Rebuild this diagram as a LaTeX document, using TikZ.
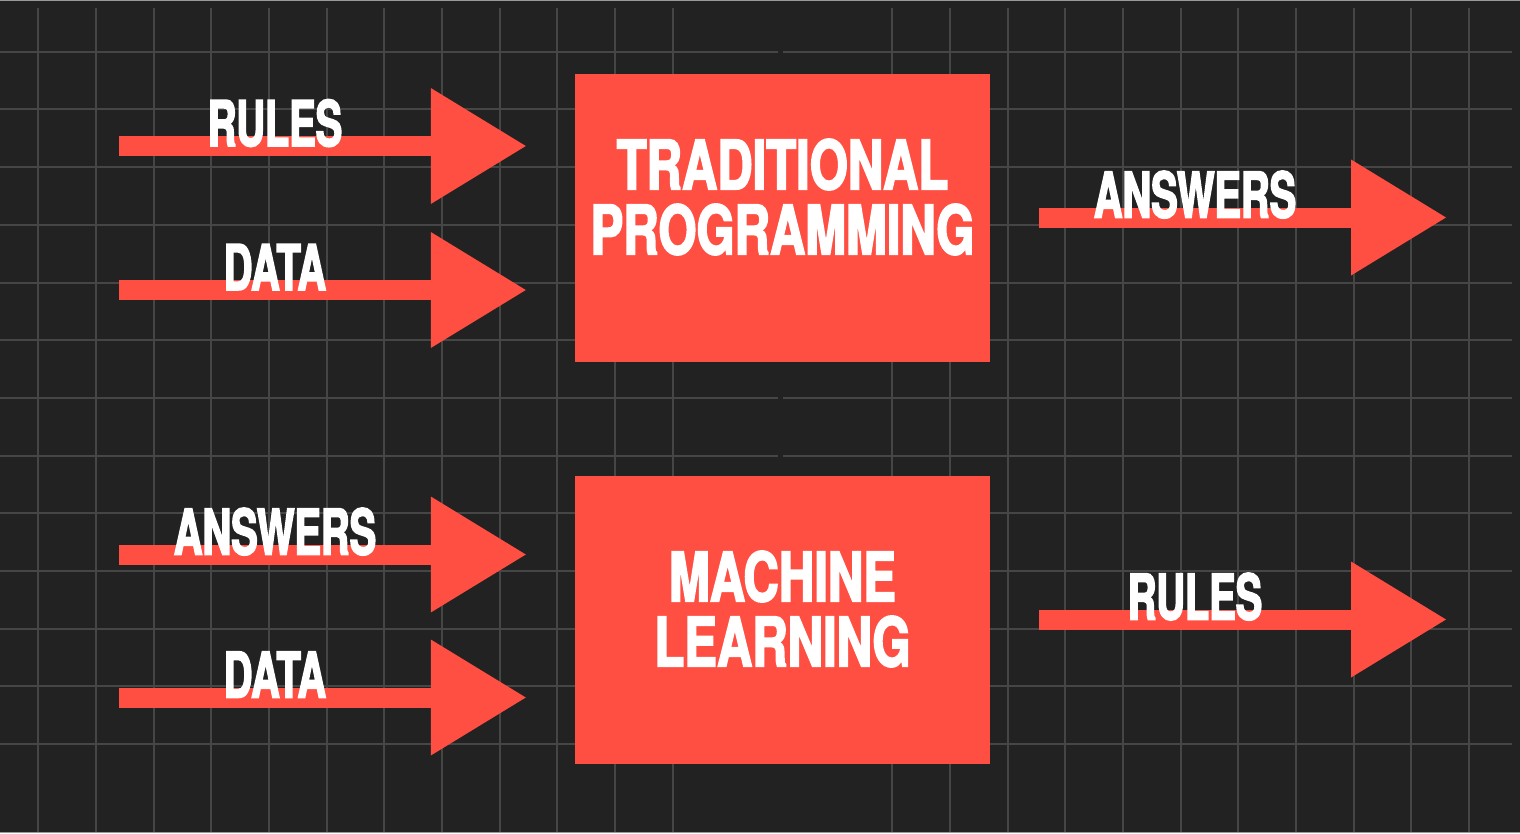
\documentclass[tikz,border=0pt]{standalone}
\usepackage{fontspec}
\usetikzlibrary{arrows.meta}
\newfontfamily\labelfont{TeX Gyre Heros}[FakeStretch=0.63,FakeBold=2.5]
\newfontfamily\blockfont{TeX Gyre Heros}[FakeStretch=0.72,FakeBold=2.5]
\definecolor{bgdark}{HTML}{222222}
\definecolor{gridgray}{HTML}{464646}
\definecolor{tomato}{HTML}{FF4F42}

\begin{document}
\begin{tikzpicture}[x=1pt,y=-1pt,
        bigarrow/.style={line width=20pt,tomato,-{Triangle[length=95pt,width=116pt,line width=0pt]}},
        gridline/.style={line width=2pt,gridgray},
        block/.style={fill=tomato,minimum width=415pt,minimum height=288pt,inner sep=0pt},
        blocktext/.style={text=white,align=center,inner sep=0pt,font={\blockfont\bfseries\fontsize{68}{65}\selectfont}},
        arrowlabel/.style={text=white,inner sep=0pt,anchor=base,font={\labelfont\bfseries\fontsize{63}{63}\selectfont}}]
        \useasboundingbox (0,0) rectangle (1520,833);
        \fill[bgdark] (0,0) rectangle (1520,833);

        % grid
        \foreach \k in {0,...,12}
            \draw[gridline] (0,{51.7+57.7*\k}) -- (1512,{51.7+57.7*\k});
        \foreach \k in {0,...,11}
            \draw[gridline] ({38.3+57.67*\k},8) -- ({38.3+57.67*\k},833);
        \foreach \k in {0,...,10}
            \draw[gridline] ({892.3+57.67*\k},8) -- ({892.3+57.67*\k},833);
        \draw[bgdark,line width=5pt] (780.5,45) -- (780.5,833);
        \draw[line width=1pt,gray!80] (0,0.5) -- (1520,0.5);
        \draw[line width=1pt,gray!80] (0,832.5) -- (1520,832.5);

        \node[block] (trad) at (782.5,218) {};
        \node[block] (ml) at (782.5,619.5) {};
        \node[blocktext] (tradtext) at ([yshift=21pt]trad.center) {TRADITIONAL\\PROGRAMMING};
        \node[blocktext] (mltext) at ([yshift=10.5pt]ml.center) {MACHINE\\LEARNING};

        \coordinate (rulesin) at (119,146);
        \coordinate (datain) at (119,290);
        \coordinate (answersin) at (119,554.5);
        \coordinate (datamlin) at (119,697.5);
        \coordinate (answersout) at (1446,217.5);
        \coordinate (rulesout) at (1446,619.5);

        \draw[bigarrow,shorten >=49pt] (rulesin) -- (rulesin -| trad.west);
        \draw[bigarrow,shorten >=49pt] (datain) -- (datain -| trad.west);
        \draw[bigarrow,shorten >=49pt] (answersin) -- (answersin -| ml.west);
        \draw[bigarrow,shorten >=49pt] (datamlin) -- (datamlin -| ml.west);
        \draw[bigarrow,shorten <=49pt] (answersout -| trad.east) -- (answersout);
        \draw[bigarrow,shorten <=49pt] (rulesout -| ml.east) -- (rulesout);

        \node[arrowlabel] (rulestop) at ([xshift=156pt]rulesin) {RULES};
        \node[arrowlabel] (datatop) at ([xshift=156pt]datain) {DATA};
        \node[arrowlabel] (answersbot) at ([xshift=156pt]answersin) {ANSWERS};
        \node[arrowlabel] (databot) at ([xshift=156pt]datamlin) {DATA};
        \node[arrowlabel] (answersright) at ([xshift=-251pt]answersout) {ANSWERS};
        \node[arrowlabel] (rulesright) at ([xshift=-251pt]rulesout) {RULES};
\end{tikzpicture}
\end{document}
